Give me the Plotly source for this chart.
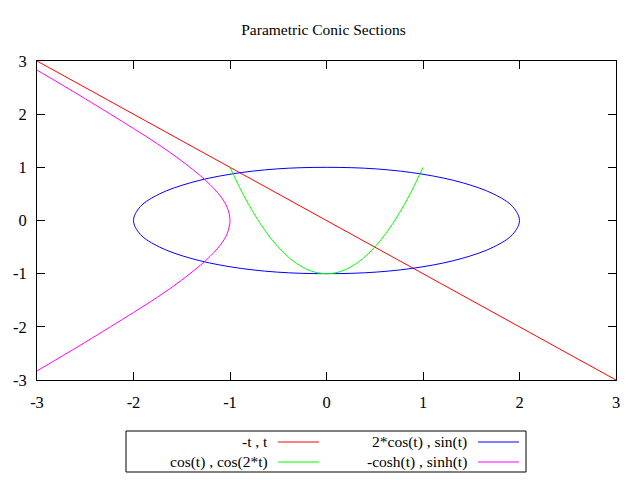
import plotly.graph_objects as go

# -t , t
line_x = [-3, 3]
line_y = [3, -3]

# 2*cos(t) , sin(t)
ellipse_x = [2, 1.93, 1.73, 1.41, 1.0, 0.52, 0, -0.52, -1.0, -1.41, -1.73, -1.93,
             -2, -1.93, -1.73, -1.41, -1.0, -0.52, 0, 0.52, 1.0, 1.41, 1.73, 1.93, 2]
ellipse_y = [0, 0.26, 0.5, 0.71, 0.87, 0.97, 1, 0.97, 0.87, 0.71, 0.5, 0.26,
             0, -0.26, -0.5, -0.71, -0.87, -0.97, -1, -0.97, -0.87, -0.71, -0.5, -0.26, 0]

# cos(t) , cos(2*t)
parab_x = [-1, -0.875, -0.75, -0.625, -0.5, -0.375, -0.25, -0.125, 0,
           0.125, 0.25, 0.375, 0.5, 0.625, 0.75, 0.875, 1]
parab_y = [1, 0.53, 0.125, -0.22, -0.5, -0.72, -0.875, -0.97, -1,
           -0.97, -0.875, -0.72, -0.5, -0.22, 0.125, 0.53, 1]

# -cosh(t) , sinh(t)
hyper_x = [-3, -2.5, -2, -1.75, -1.5, -1.25, -1.1, -1.03, -1,
           -1.03, -1.1, -1.25, -1.5, -1.75, -2, -2.5, -3]
hyper_y = [-2.83, -2.29, -1.73, -1.44, -1.12, -0.75, -0.46, -0.25, 0,
           0.25, 0.46, 0.75, 1.12, 1.44, 1.73, 2.29, 2.83]

ticks = [-3, -2, -1, 0, 1, 2, 3]
tick_text = ["-3", "-2", "-1", "0", "1", "2", "3"]

series = [
    ("-t , t", line_x, line_y, "#ff0000"),
    ("2*cos(t) , sin(t)", ellipse_x, ellipse_y, "#0000ff"),
    ("cos(t) , cos(2*t)", parab_x, parab_y, "#00ff00"),
    ("-cosh(t) , sinh(t)", hyper_x, hyper_y, "#ff00ff"),
]

# page body has an 8px margin, so screen coords are shifted by OFF
OFF = 8
W, H = 640 - OFF, 480 - OFF
L, R, T, B = 37 - OFF, 616 - OFF, 61 - OFF, 380 - OFF
FONT = "Liberation Serif, Times New Roman, serif"
FS = 15.5


def px(x):
    return (x - OFF - L) / (R - L)


def py(y):
    return (B - (y - OFF)) / (B - T)


fig = go.Figure()
for name, xs, ys, col in series:
    fig.add_trace(go.Scatter(x=xs, y=ys, mode="lines", name=name,
                             line=dict(color=col, width=1, shape="spline", smoothing=1),
                             showlegend=False))

# gnuplot-style key below the plot
shapes = [dict(type="rect", xref="paper", yref="paper",
               x0=px(126), x1=px(526), y0=py(431), y1=py(472),
               line=dict(color="black", width=1))]
annotations = []
slots = [(270, 278, 319, 442), (469, 478, 519, 442),
         (270, 278, 319, 462), (469, 478, 519, 462)]
for (name, _, _, col), (tx, lx0, lx1, ly) in zip(series, slots):
    annotations.append(dict(text=name, xref="paper", yref="paper",
                            x=px(tx), y=py(ly), xanchor="right", yanchor="middle",
                            showarrow=False, font=dict(family=FONT, size=FS, color="black")))
    shapes.append(dict(type="line", xref="paper", yref="paper",
                       x0=px(lx0), x1=px(lx1), y0=py(ly), y1=py(ly),
                       line=dict(color=col, width=1)))

axis = dict(range=[-3, 3], tickvals=ticks, ticktext=tick_text, showgrid=False,
            zeroline=False, showline=True, linecolor="black", linewidth=1,
            mirror="ticks", ticks="inside", ticklen=8, tickcolor="black",
            automargin=False,
            tickfont=dict(family=FONT, size=16.5, color="black"))

fig.update_layout(
    width=W, height=H,
    margin=dict(l=L, r=W - R, t=T, b=H - B),
    paper_bgcolor="white", plot_bgcolor="white",
    title=dict(text="Parametric Conic Sections", x=px(326), xanchor="center",
               y=1 - (30 - OFF) / H, yanchor="middle",
               font=dict(family=FONT, size=FS, color="black")),
    xaxis=dict(axis, ticklabelstandoff=7),
    yaxis=dict(axis, ticklabelstandoff=6),
    shapes=shapes, annotations=annotations,
)

fig.write_html("out.html")
